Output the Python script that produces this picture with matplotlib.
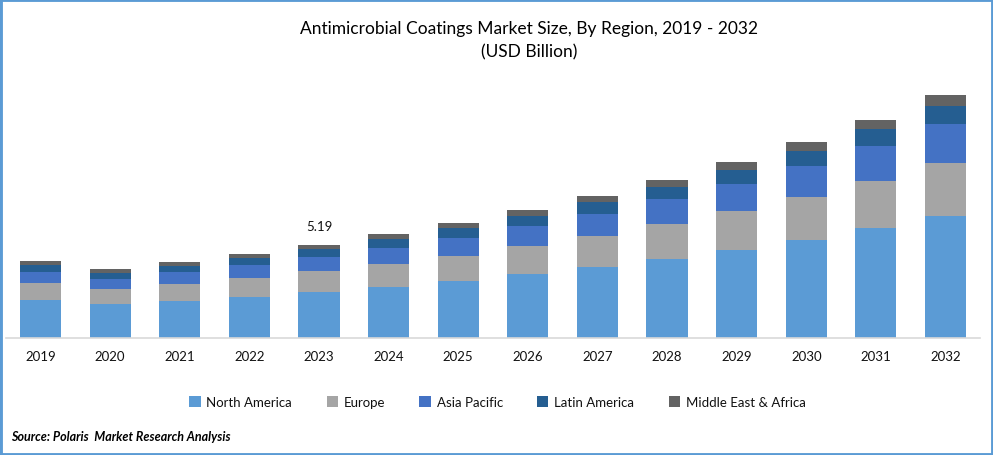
import matplotlib
matplotlib.use("Agg")
import matplotlib.pyplot as plt
from matplotlib.patches import Rectangle
import numpy as np

years = [str(y) for y in range(2019, 2033)]

north_america = [2.12, 1.90, 2.06, 2.29, 2.57, 2.85, 3.18, 3.57, 3.96, 4.41, 4.91, 5.47, 6.14, 6.81]
europe = [0.95, 0.84, 0.95, 1.06, 1.17, 1.28, 1.40, 1.56, 1.73, 1.95, 2.18, 2.40, 2.62, 2.96]
asia_pacific = [0.61, 0.56, 0.67, 0.73, 0.78, 0.89, 1.00, 1.12, 1.23, 1.40, 1.51, 1.73, 1.95, 2.18]
latin_america = [0.39, 0.33, 0.33, 0.39, 0.45, 0.50, 0.56, 0.56, 0.67, 0.67, 0.78, 0.84, 0.95, 1.00]
middle_east_africa = [0.22, 0.22, 0.22, 0.22, 0.22, 0.28, 0.28, 0.33, 0.33, 0.39, 0.45, 0.50, 0.50, 0.61]

series = [
    ("North America", north_america, "#5B9BD5"),
    ("Europe", europe, "#A5A5A5"),
    ("Asia Pacific", asia_pacific, "#4472C4"),
    ("Latin America", latin_america, "#255E91"),
    ("Middle East & Africa", middle_east_africa, "#636363"),
]

W, H = 993, 456
plt.rcParams['font.family'] = ['Lato', 'DejaVu Sans']

fig = plt.figure(figsize=(W / 100, H / 100), dpi=100)
ax = fig.add_axes([5.7 / W, (H - 339) / H, 974.6 / W, 259 / H])

x = np.arange(len(years))
bottom = np.zeros(len(years))
for name, values, color in series:
    ax.bar(x, values, width=0.59, bottom=bottom, color=color, label=name, linewidth=0)
    bottom += np.array(values)

ax.set_xlim(-0.5, len(years) - 0.5)
ax.set_ylim(0, 14.45)
ax.set_xticks(x)
ax.set_xticklabels(years, fontsize=9.5, color="#111111")
ax.tick_params(axis='x', length=0, pad=9)
ax.set_yticks([])
for side in ['top', 'left', 'right']:
    ax.spines[side].set_visible(False)
ax.spines['bottom'].set_color("#D9D9D9")
ax.spines['bottom'].set_linewidth(1.2)

# only 2023 carries a total label
ax.annotate("5.19", (4, bottom[4]), xytext=(0, 9), textcoords='offset points',
            ha='center', va='bottom', fontsize=9.5, color="#111111")

fig.text(529 / W, 1 - 29 / H, "Antimicrobial Coatings Market Size, By Region, 2019 - 2032",
         ha='center', va='center', fontsize=12.5, color="#000000")
fig.text(529 / W, 1 - 52 / H, "(USD Billion)", ha='center', va='center', fontsize=12.5, color="#000000")

fig.legend(loc='center', bbox_to_anchor=(497.5 / W, 1 - 403 / H), ncol=5, frameon=False, fontsize=9.5,
           handlelength=0.85, handleheight=0.85, handletextpad=0.45, columnspacing=2.6,
           labelcolor="#111111")

fig.text(11 / W, 1 - 437 / H, "Source: Polaris  Market Research Analysis",
         ha='left', va='center', fontsize=9, style='italic', weight='bold', color="#000000")

fig.add_artist(Rectangle((0, 0), 1, 1, transform=fig.transFigure, fill=False,
                         edgecolor="#5B9BD5", linewidth=3.5))

fig.savefig("out.png", dpi=100)
